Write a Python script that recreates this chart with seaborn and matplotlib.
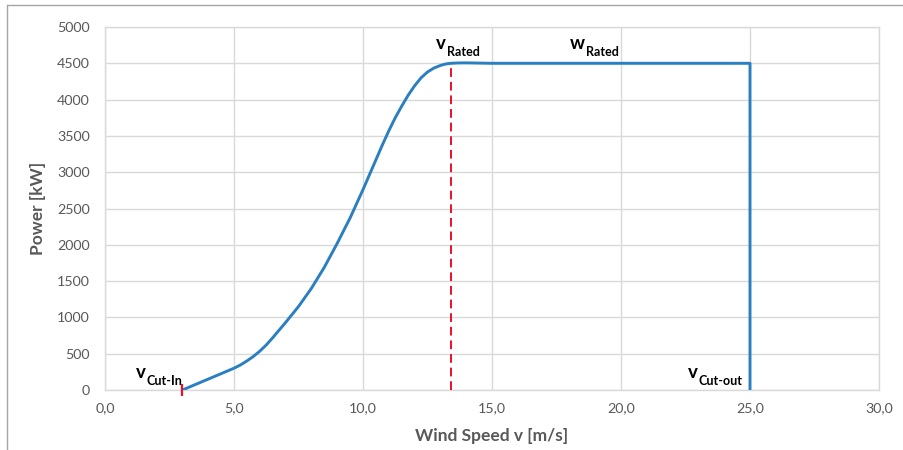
import matplotlib
matplotlib.use("Agg")
import matplotlib.pyplot as plt
from matplotlib.lines import Line2D
from matplotlib.ticker import FuncFormatter
import seaborn as sns
import pandas as pd

# Power curve of the turbine (wind speed in m/s, power in kW)
wind_speed = [3.0, 3.5, 4.0, 4.5, 5.0, 5.25, 5.5, 5.75, 6.0, 6.25, 6.5, 7.0,
              7.5, 8.0, 8.5, 9.0, 9.5, 10.0, 10.5, 10.75, 11.0, 11.25, 11.5,
              11.75, 12.0, 12.25, 12.5, 12.75, 13.0, 13.2, 13.4, 13.7, 14.0,
              15.0, 20.0, 25.0, 25.0]
power_kw = [0, 75, 150, 225, 300, 345, 400, 462, 535, 620, 720, 930,
            1150, 1400, 1690, 2020, 2370, 2760, 3170, 3375, 3570, 3750, 3910,
            4060, 4190, 4300, 4380, 4435, 4470, 4490, 4500, 4505, 4506,
            4500, 4500, 4500, 0]

v_cut_in = 3.0
v_rated = 13.4
v_cut_out = 25.0
p_rated = 4500

x_ticks = [0, 5, 10, 15, 20, 25, 30]
y_ticks = [0, 500, 1000, 1500, 2000, 2500, 3000, 3500, 4000, 4500, 5000]

curve = pd.DataFrame({"v": wind_speed, "P": power_kw})
rated = pd.DataFrame({"v": [v_rated, v_rated], "P": [0, p_rated]})

sns.set_theme(style="white")
plt.rcParams["font.family"] = ["Lato", "DejaVu Sans"]

GRID = "#d9d9d9"
TEXT = "#595959"
BLUE = "#2a7fc1"
RED = "#e8102a"

fig = plt.figure(figsize=(9.04, 4.5), dpi=100)
ax = fig.add_axes([105 / 904, 60 / 450, 774 / 904, 363 / 450])

sns.lineplot(data=rated, x="v", y="P", estimator=None, sort=False, ax=ax,
             color=RED, linewidth=1.4, linestyle=(0, (4.5, 2.5)), zorder=3)
sns.lineplot(data=curve, x="v", y="P", estimator=None, sort=False, ax=ax,
             color=BLUE, linewidth=2.1, zorder=4)
ax.lines[-1].set_solid_joinstyle("round")
ax.plot([v_cut_in], [0], marker="|", markersize=9, markeredgewidth=1.6,
        color=RED, zorder=5, clip_on=False)

ax.set_xlim(0, 30)
ax.set_ylim(0, 5000)
ax.set_xticks(x_ticks)
ax.set_yticks(y_ticks)
ax.xaxis.set_major_formatter(FuncFormatter(lambda x, _: f"{x:.1f}".replace(".", ",")))
ax.grid(True, color=GRID, linewidth=1.0)
ax.set_axisbelow(True)
for s in ax.spines.values():
    s.set_color(GRID)
    s.set_linewidth(1.0)
ax.tick_params(axis="both", length=0, labelsize=10.3, labelcolor=TEXT)
ax.tick_params(axis="y", pad=11)
ax.tick_params(axis="x", pad=9)

ax.set_xlabel("Wind Speed v [m/s]", fontsize=12.5, fontweight="bold",
              color=TEXT, labelpad=10)
ax.set_ylabel("Power [kW]", fontsize=12.5, fontweight="bold", color=TEXT,
              labelpad=8)


def label(x, y, main, sub, dx, dy):
    """Bold symbol with a bold subscript, offset in points from (x, y)."""
    t = ax.annotate(main, xy=(x, y), xytext=(dx, dy), textcoords="offset points",
                    fontsize=13.5, fontweight="bold", color="black",
                    ha="left", va="baseline", zorder=6)
    fig.canvas.draw()
    bb = t.get_window_extent()
    # subscript right after the symbol
    ax.annotate(sub, xy=(bb.x1, bb.y0), xycoords="figure pixels",
                xytext=(0.5, -3), textcoords="offset points",
                fontsize=9, fontweight="bold", color="black",
                ha="left", va="baseline", zorder=6)


label(v_cut_in, 0, "v", "Cut-In", -33.5, 9)
label(v_rated, p_rated, "v", "Rated", -10.5, 10.5)
label(19.0, p_rated, "w", "Rated", -18, 10.5)
label(v_cut_out, 0, "v", "Cut-out", -45, 9)

# outer chart frame
fig.add_artist(Line2D([7 / 904, 7 / 904], [0, 1 - 5 / 450], transform=fig.transFigure,
                      color="#a6a6a6", linewidth=1.0))
fig.add_artist(Line2D([7 / 904, 1], [1 - 5 / 450, 1 - 5 / 450], transform=fig.transFigure,
                      color="#a6a6a6", linewidth=1.0))

fig.savefig("out.png", dpi=100)
